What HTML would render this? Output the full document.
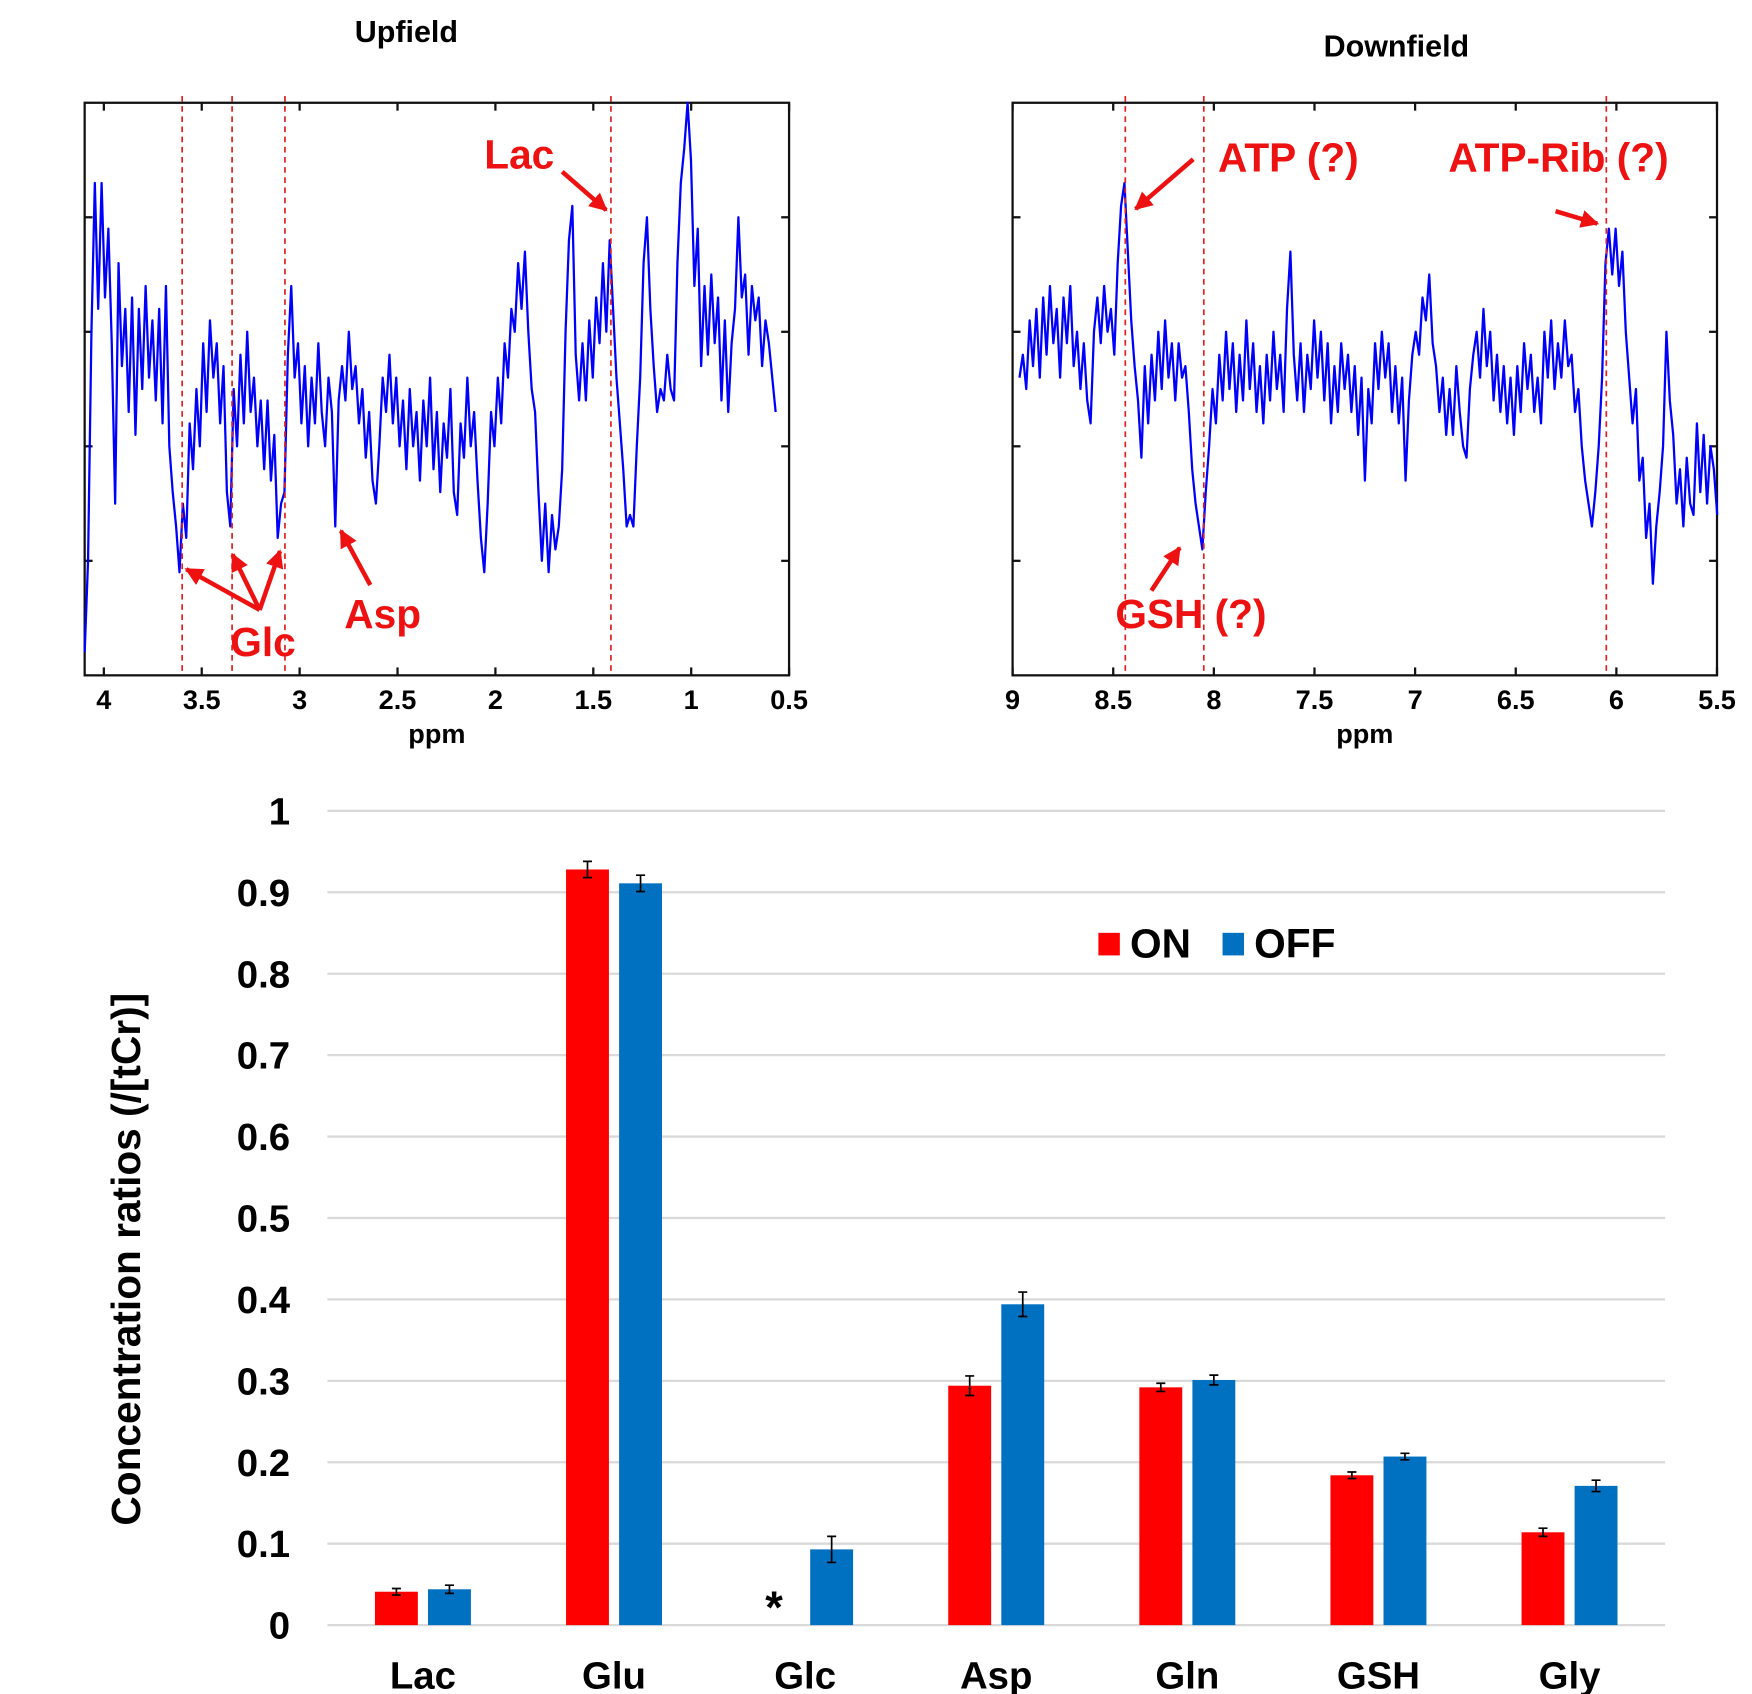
<!DOCTYPE html>
<html><head><meta charset="utf-8"><style>
html,body{margin:0;padding:0;background:#fff;}
svg{display:block;font-family:"Liberation Sans",Arial,sans-serif;}
</style></head><body>
<svg id="fig" width="1752" height="1694" viewBox="0 0 1552 1500" preserveAspectRatio="none" xmlns="http://www.w3.org/2000/svg">
<defs>
<marker id="ah" viewBox="0 0 10 10" refX="9" refY="5" markerWidth="4" markerHeight="4" orient="auto"><path d="M0,0 L10,5 L0,10 z" fill="#ee1111"/></marker>
</defs>
<g id="up"></g>
<g id="down"></g>
<g id="bars"></g>
</svg>
<script>
// ---------- spectra data (intensity in axis units 0..5) ----------
const upStartPpm = 4.098, upStepPpm = 0.0173;
const upValues = [0.2,1.0,3.0,4.3,3.2,4.3,3.3,3.9,2.9,1.5,3.6,2.7,3.2,2.3,3.3,2.1,3.2,2.5,3.4,2.6,3.1,2.4,3.2,2.2,3.4,2.0,1.6,1.3,0.9,1.5,1.2,2.2,1.8,2.5,2.0,2.9,2.3,3.1,2.6,2.9,2.2,2.7,1.6,1.3,2.5,2.0,2.8,2.2,3.0,2.3,2.6,2.0,2.4,1.8,2.4,1.7,2.1,1.2,1.5,1.6,2.8,3.4,2.6,2.9,2.2,2.7,2.0,2.6,2.2,2.9,2.3,2.0,2.6,2.3,1.3,2.4,2.7,2.4,3.0,2.5,2.7,2.2,2.5,1.9,2.3,1.7,1.5,2.0,2.6,2.3,2.8,2.2,2.6,2.0,2.4,1.8,2.5,2.0,2.3,1.7,2.4,2.0,2.6,1.8,2.3,1.6,2.2,1.9,2.5,1.6,1.4,2.2,1.9,2.6,2.0,2.3,1.7,1.2,0.9,1.5,2.3,2.0,2.6,2.2,2.9,2.6,3.2,3.0,3.6,3.2,3.7,3.0,2.5,2.3,1.6,1.0,1.5,0.9,1.4,1.1,1.3,1.8,3.0,3.8,4.1,2.8,2.4,2.9,2.4,3.1,2.6,3.3,2.9,3.6,3.0,3.8,3.2,2.6,2.2,1.8,1.3,1.4,1.3,2.0,2.6,3.6,4.0,3.2,2.7,2.3,2.5,2.4,2.8,2.5,2.4,3.6,4.3,4.6,5.0,4.5,3.4,3.9,2.7,3.4,2.8,3.5,2.9,3.3,2.4,3.1,2.3,2.9,3.2,4.0,3.3,3.5,2.8,3.4,3.1,3.3,2.7,3.1,2.9,2.6,2.3];
const downStartPpm = 8.966, downStepPpm = 0.01683;
const downValues = [2.6,2.8,2.5,3.1,2.7,3.2,2.6,3.3,2.8,3.4,2.9,3.2,2.6,3.3,2.9,3.4,2.7,3.0,2.5,2.9,2.4,2.2,3.0,3.3,2.9,3.4,3.0,3.2,2.8,3.6,4.1,4.3,3.7,3.1,2.7,2.4,1.9,2.7,2.2,2.8,2.4,3.0,2.5,3.1,2.6,2.9,2.4,2.9,2.6,2.7,2.3,1.8,1.5,1.3,1.1,1.6,2.0,2.5,2.2,2.8,2.4,3.0,2.5,2.9,2.3,2.8,2.4,3.1,2.5,2.9,2.3,2.7,2.2,2.8,2.4,3.0,2.5,2.8,2.3,3.2,3.7,2.8,2.4,2.9,2.3,2.8,2.5,3.1,2.6,3.0,2.4,2.9,2.2,2.7,2.3,2.9,2.5,2.8,2.3,2.7,2.1,2.6,1.7,2.5,2.2,2.9,2.5,3.0,2.6,2.9,2.3,2.7,2.2,2.6,1.7,2.4,2.8,3.0,2.8,3.3,3.1,3.5,2.9,2.7,2.3,2.6,2.1,2.5,2.1,2.7,2.3,2.0,1.9,2.5,2.8,3.0,2.6,3.2,2.7,3.0,2.4,2.8,2.3,2.7,2.2,2.6,2.1,2.7,2.3,2.9,2.5,2.8,2.3,2.6,2.2,3.0,2.6,3.1,2.5,2.9,2.6,3.1,2.7,2.8,2.3,2.5,2.0,1.7,1.5,1.3,1.6,2.0,2.6,3.6,3.9,3.5,3.9,3.4,3.7,3.0,2.6,2.2,2.5,1.7,1.9,1.2,1.5,0.8,1.3,1.6,2.0,3.0,2.4,2.1,1.5,1.8,1.3,1.9,1.5,1.4,2.2,1.6,2.1,1.5,2.0,1.8,1.4];
const upTicks = [4,3.5,3,2.5,2,1.5,1,0.5];
const upTickLabels = ["4","3.5","3","2.5","2","1.5","1","0.5"];
const downTicks = [9,8.5,8,7.5,7,6.5,6,5.5];
const downTickLabels = ["9","8.5","8","7.5","7","6.5","6","5.5"];
const upMarkers = [3.6,3.345,3.075,1.41];
const downMarkers = [8.44,8.05,6.05];

// ---------- bar chart data ----------
const categories = ["Lac","Glu","Glc","Asp","Gln","GSH","Gly"];
const onValues = [0.041,0.928,0,0.294,0.292,0.184,0.114];
const onErrors = [0.004,0.010,0,0.012,0.005,0.004,0.005];
const offValues = [0.044,0.911,0.093,0.394,0.301,0.207,0.171];
const offErrors = [0.005,0.010,0.016,0.015,0.006,0.004,0.007];
const yTicks = [0,0.1,0.2,0.3,0.4,0.5,0.6,0.7,0.8,0.9,1];
const yTickLabels = ["0","0.1","0.2","0.3","0.4","0.5","0.6","0.7","0.8","0.9","1"];

const NS="http://www.w3.org/2000/svg";
function mk(parent,tag,attrs,text){const e=document.createElementNS(NS,tag);for(const k in attrs)e.setAttribute(k,attrs[k]);if(text!==undefined)e.textContent=text;parent.appendChild(e);return e;}

function spectrum(g,o){
  const L=o.left,R=o.right,T=91,B=598;
  const xs=p=>L+(o.ppmLeft-p)/(o.ppmLeft-o.ppmRight)*(R-L);
  const ys=v=>B-v/5*(B-T);
  let t=mk(g,'text',{x:o.titleX,y:o.titleY,'font-size':27,'font-weight':'bold','text-anchor':'middle'},o.title);
  
  
  let f=mk(g,'rect',{x:L,y:T,width:R-L,height:B-T,fill:'none',stroke:'#111','stroke-width':2});
  
  
  for(let k=1;k<5;k++){const y=ys(k);mk(g,'line',{x1:L,x2:L+7,y1:y,y2:y,stroke:'#111','stroke-width':2});mk(g,'line',{x1:R,x2:R-7,y1:y,y2:y,stroke:'#111','stroke-width':2});}
  o.ticks.forEach((p,i)=>{const x=xs(p);mk(g,'line',{x1:x,x2:x,y1:B,y2:B-7,stroke:'#111','stroke-width':2});mk(g,'line',{x1:x,x2:x,y1:T,y2:T+7,stroke:'#111','stroke-width':2});
    let tl=mk(g,'text',{x:x,y:628,'font-size':24,'font-weight':'bold','text-anchor':'middle'},o.labels[i]);
    
    });
  let xl=mk(g,'text',{x:o.ppmX,y:658,'font-size':24,'font-weight':'bold','text-anchor':'middle'},'ppm');
  
  
  let pts=o.values.map((v,i)=>xs(o.start-i*o.step).toFixed(1)+','+ys(v).toFixed(1)).join(' ');
  let pl=mk(g,'polyline',{points:pts,fill:'none',stroke:'#0000ff','stroke-width':2,'stroke-linejoin':'round'});
  
  
  o.markers.forEach(p=>{const x=xs(p);let d=mk(g,'line',{x1:x,x2:x,y1:T-6,y2:B,stroke:'#e02020','stroke-width':1.5,'stroke-dasharray':'5,4'});
    
    });
  o.notes.forEach(n=>{let a=mk(g,'text',{x:n[0],y:n[1],'font-size':36,'font-weight':'bold',fill:'#ee1111'},n[2]);
    
    });
  o.arrows.forEach(a=>{let l=mk(g,'line',{x1:a[0],y1:a[1],x2:a[2],y2:a[3],stroke:'#ee1111','stroke-width':4,'marker-end':'url(#ah)'});
    
    });
}
spectrum(document.getElementById('up'),{left:75,right:699,ppmLeft:4.098,ppmRight:0.5,title:'Upfield',titleX:360,titleY:37,ppmX:387,
  ticks:upTicks,labels:upTickLabels,values:upValues,start:upStartPpm,step:upStepPpm,markers:upMarkers,
  notes:[[429,149,'Lac'],[204,581,'Glc'],[305,556,'Asp']],
  arrows:[[498,152,537,186],[230,540,165,504],[230,540,206,491],[230,540,248,488],[328,518,302,470]]});
spectrum(document.getElementById('down'),{left:897,right:1521,ppmLeft:9,ppmRight:5.5,title:'Downfield',titleX:1237,titleY:50,ppmX:1209,
  ticks:downTicks,labels:downTickLabels,values:downValues,start:downStartPpm,step:downStepPpm,markers:downMarkers,
  notes:[[1079,152,'ATP (?)'],[1283,152,'ATP-Rib (?)'],[988,556,'GSH (?)']],
  arrows:[[1057,141,1006,185],[1378,187,1415,198],[1020,523,1045,485]]});

// ---------- bar chart ----------
(function(){
  const g=document.getElementById('bars');
  const L=290,R=1475,Y0=1439,Y1=718;
  const ys=v=>Y0-v*(Y0-Y1);
  const band=(R-L)/categories.length;
  yTicks.forEach((v,i)=>{const y=ys(v);
    let gl=mk(g,'line',{x1:L,x2:R,y1:y,y2:y,stroke:'#d9d9d9','stroke-width':2});
    
    
    let t=mk(g,'text',{x:257,y:y+12,'font-size':34,'font-weight':'bold','text-anchor':'end'},yTickLabels[i]);
    
    });
  let yt=mk(g,'text',{x:0,y:0,'font-size':36,'font-weight':'bold','text-anchor':'middle',transform:'translate(124,1115) rotate(-90)'},'Concentration ratios (/[tCr)]');
  
  
  const bw=38,gap=9;
  categories.forEach((c,i)=>{
    const cx=L+band*(i+0.5);
    let cl=mk(g,'text',{x:cx,y:1495,'font-size':34,'font-weight':'bold','text-anchor':'middle'},c);
    
    
    [[onValues[i],onErrors[i],cx-gap/2-bw,'#ff0000','on'],[offValues[i],offErrors[i],cx+gap/2,'#0070c0','off']].forEach(s=>{
      if(s[0]<=0)return;
      let r=mk(g,'rect',{x:s[2],y:ys(s[0]),width:bw,height:Y0-ys(s[0]),fill:s[3]});
      
      
      const ex=s[2]+bw/2,yt1=ys(s[0]+s[1]),yb=ys(s[0]-s[1]);
      let e=mk(g,'path',{d:`M${ex},${yt1}V${yb}M${ex-4},${yt1}H${ex+4}M${ex-4},${yb}H${ex+4}`,stroke:'#000','stroke-width':1.5,fill:'none'});
      
      
    });
    if(onValues[i]<=0){let a=mk(g,'text',{x:cx-gap/2-bw/2-4,y:Y0-2,'font-size':40,'font-weight':'bold','text-anchor':'middle'},'*');
      
      }
  });
  let lg=mk(g,'g',{});
  
  
  mk(lg,'rect',{x:973,y:826,width:19,height:20,fill:'#ff0000'});
  mk(lg,'text',{x:1001,y:848,'font-size':36,'font-weight':'bold'},'ON');
  mk(lg,'rect',{x:1083,y:826,width:19,height:20,fill:'#0070c0'});
  mk(lg,'text',{x:1111,y:848,'font-size':36,'font-weight':'bold'},'OFF');
})();
</script>
</body></html>
